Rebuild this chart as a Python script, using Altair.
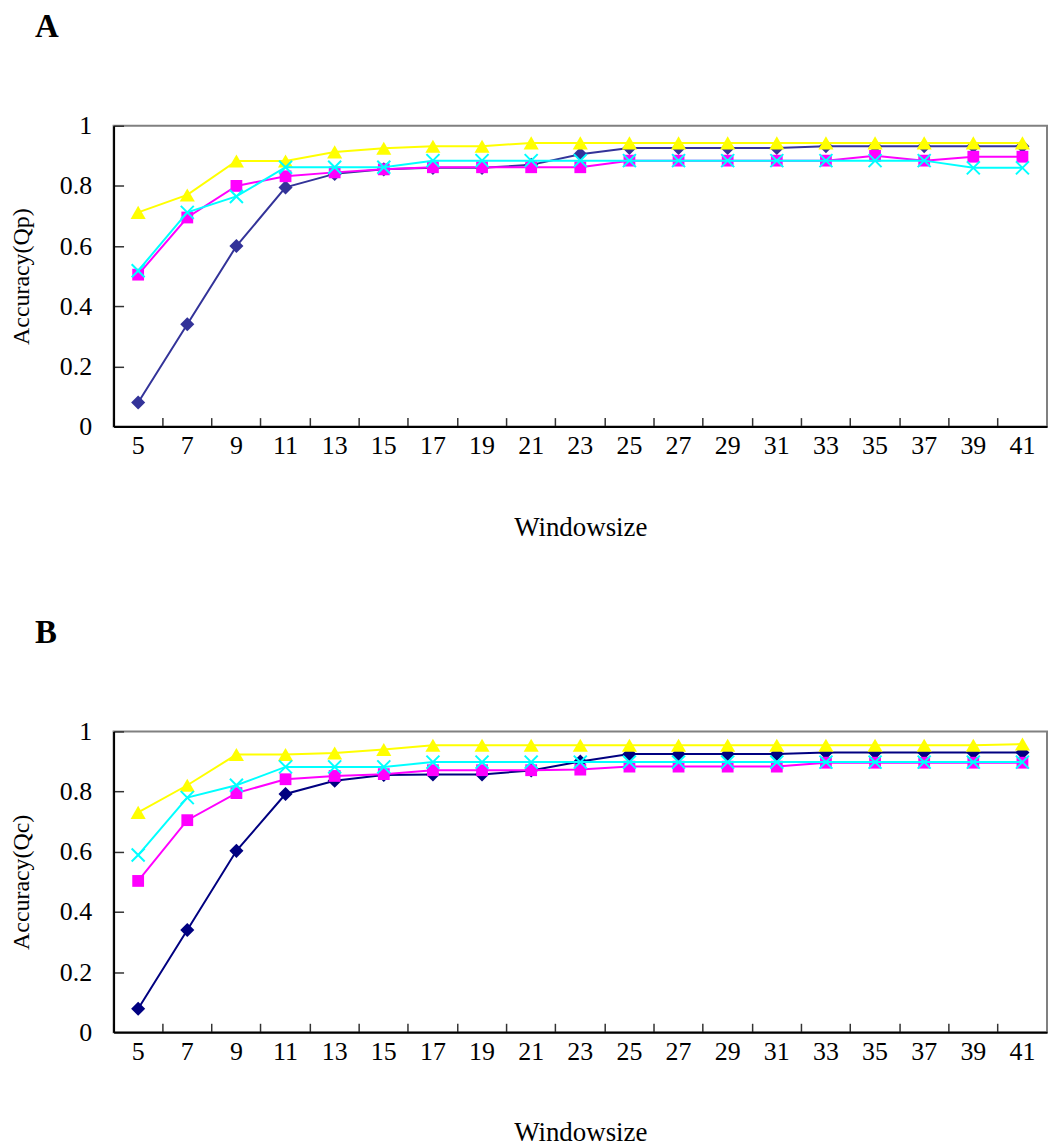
import altair as alt
import pandas as pd

# ---------------- data ----------------
windowsize = [5, 7, 9, 11, 13, 15, 17, 19, 21, 23, 25, 27, 29, 31, 33, 35, 37, 39, 41]
series_names = ["Series 1", "Series 2", "Series 3", "Series 4"]

# Panel A : Accuracy(Qp)
qp_s1 = [0.08, 0.34, 0.60, 0.795, 0.84, 0.855, 0.86, 0.86, 0.87, 0.905, 0.926, 0.926, 0.926, 0.926, 0.932, 0.932, 0.932, 0.932, 0.932]
qp_s2 = [0.505, 0.695, 0.80, 0.832, 0.845, 0.855, 0.862, 0.862, 0.862, 0.862, 0.884, 0.884, 0.884, 0.884, 0.884, 0.90, 0.884, 0.897, 0.897]
qp_s3 = [0.712, 0.77, 0.883, 0.883, 0.913, 0.925, 0.932, 0.932, 0.943, 0.943, 0.943, 0.943, 0.943, 0.943, 0.943, 0.943, 0.943, 0.943, 0.943]
qp_s4 = [0.518, 0.712, 0.765, 0.862, 0.862, 0.862, 0.884, 0.884, 0.884, 0.884, 0.884, 0.884, 0.884, 0.884, 0.884, 0.884, 0.884, 0.86, 0.86]

# Panel B : Accuracy(Qc)
qc_s1 = [0.078, 0.34, 0.603, 0.792, 0.836, 0.855, 0.857, 0.857, 0.87, 0.90, 0.925, 0.925, 0.925, 0.925, 0.93, 0.93, 0.93, 0.93, 0.93]
qc_s2 = [0.503, 0.705, 0.795, 0.841, 0.852, 0.858, 0.871, 0.871, 0.871, 0.873, 0.883, 0.883, 0.883, 0.883, 0.896, 0.896, 0.896, 0.896, 0.896]
qc_s3 = [0.731, 0.821, 0.923, 0.923, 0.928, 0.94, 0.954, 0.954, 0.954, 0.954, 0.954, 0.954, 0.954, 0.954, 0.954, 0.954, 0.954, 0.954, 0.958]
qc_s4 = [0.589, 0.78, 0.821, 0.882, 0.882, 0.882, 0.898, 0.898, 0.898, 0.898, 0.898, 0.898, 0.898, 0.898, 0.898, 0.898, 0.898, 0.898, 0.898]

y_ticks = [0, 0.2, 0.4, 0.6, 0.8, 1]
y_inner_ticks = [0.2, 0.4, 0.6, 0.8, 1]

# ---------------- style ----------------
W, H = 937, 302
FONT = "Liberation Serif"
X_PATH = "M-1,-1L1,1M-1,1L1,-1"

xscale = alt.Scale(type="band", paddingInner=0, paddingOuter=0)
yscale = alt.Scale(domain=[0, 1], nice=False, zero=True)


def panel(letter, ytitle, values, colors):
    rows = []
    for name, vals in zip(series_names, values):
        for w, v in zip(windowsize, vals):
            rows.append({"Windowsize": w, "Accuracy": v, "Series": name})
    df = pd.DataFrame(rows)
    base = alt.Chart(df)

    styles = [
        dict(shape="diamond", size=200, filled=True),
        dict(shape="square", size=140, filled=True),
        dict(shape="triangle-up", size=230, filled=True),
        dict(shape=X_PATH, size=170, filled=False),
    ]

    layers = []
    # inside tick marks (separate axes pointing into the plot)
    layers.append(
        base.mark_point(opacity=0).encode(
            x=alt.X("Windowsize:O", scale=xscale, title=None,
                    axis=alt.Axis(orient="top", offset=-H, labels=False, domain=False,
                                  tickSize=9, tickWidth=1.5, tickColor="#333333",
                                  bandPosition=0, title=None)),
            y=alt.Y("Accuracy:Q", scale=yscale, title=None,
                    axis=alt.Axis(orient="right", offset=-W, labels=False, domain=False,
                                  values=y_inner_ticks, tickSize=10, tickWidth=1.5,
                                  tickColor="#333333", grid=False, title=None)),
        )
    )

    first = True
    for name, col, st in zip(series_names, colors, styles):
        sub = base.transform_filter(alt.datum.Series == name)
        if first:
            xax = alt.Axis(title="Windowsize", labelAngle=0, ticks=False, domain=True,
                           domainColor="#000000", domainWidth=2, labelPadding=6,
                           titlePadding=56)
            yax = alt.Axis(title=ytitle, values=y_ticks, format="~g", ticks=False,
                           domain=True, domainColor="#000000", domainWidth=2,
                           labelPadding=22, titlePadding=26, grid=False)
        else:
            xax = None
            yax = None
        enc_x = alt.X("Windowsize:O", scale=xscale, bandPosition=0.5, axis=xax)
        enc_y = alt.Y("Accuracy:Q", scale=yscale, axis=yax)
        layers.append(sub.mark_line(color=col, strokeWidth=2).encode(x=enc_x, y=enc_y))
        if st["filled"]:
            pt = sub.mark_point(shape=st["shape"], size=st["size"], filled=True,
                                color=col, opacity=1, strokeWidth=0)
        else:
            pt = sub.mark_point(shape=st["shape"], size=st["size"], filled=False,
                                color=col, opacity=1, strokeWidth=2)
        layers.append(pt.encode(x=alt.X("Windowsize:O", scale=xscale, bandPosition=0.5, axis=None),
                                y=alt.Y("Accuracy:Q", scale=yscale, axis=None)))
        first = False

    return alt.layer(*layers).resolve_axis(x="independent", y="independent").properties(
        width=W, height=H,
        title=alt.TitleParams(text=letter, anchor="start", frame="group", dx=-79,
                              fontSize=33, font=FONT, fontWeight="bold", color="#000000",
                              offset=69),
    )


chart_a = panel("A", "Accuracy(Qp)", [qp_s1, qp_s2, qp_s3, qp_s4],
                ["#333399", "#FF00FF", "#FFFF00", "#00FFFF"])
chart_b = panel("B", "Accuracy(Qc)", [qc_s1, qc_s2, qc_s3, qc_s4],
                ["#000080", "#FF00FF", "#FFFF00", "#00FFFF"])

chart = alt.vconcat(chart_a, chart_b, spacing=75).properties(
    padding={"left": 0, "top": 0, "right": 0, "bottom": 0}
).configure_view(
    stroke="#808080", strokeWidth=2
).configure_axis(
    labelFont=FONT, labelFontSize=26, labelColor="#000000",
    titleFont=FONT, titleFontSize=24, titleFontWeight="normal", titleColor="#000000",
    grid=False,
).configure_axisX(titleFontSize=27)

chart.save("out.html", embed_options={"renderer": "svg", "actions": False})
